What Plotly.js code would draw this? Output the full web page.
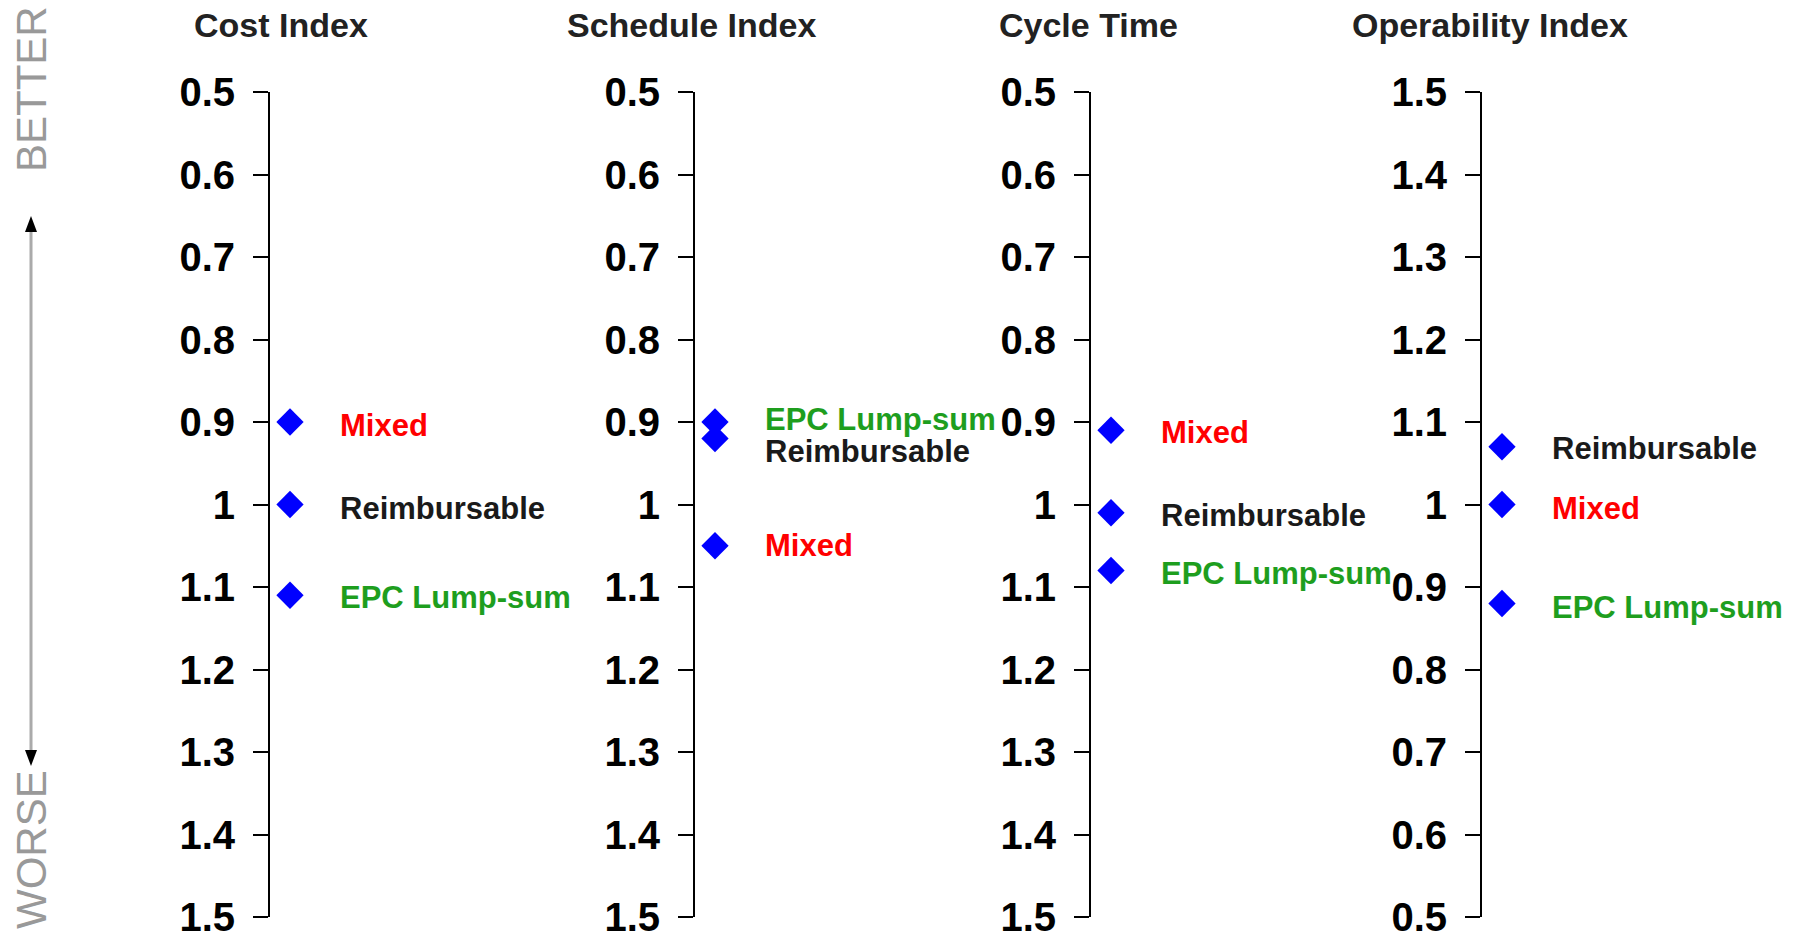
<!DOCTYPE html>
<html>
<head>
<meta charset="utf-8">
<script src="https://cdn.plot.ly/plotly-3.0.1.min.js"></script>
<style>html,body{margin:0;padding:0;background:#fff;}#chart{width:1801px;height:938px;}</style>
</head>
<body>
<div id="chart"></div>
<script>
// ---- data ----
const categories = ['EPC Lump-sum', 'Reimbursable', 'Mixed'];
const metricTitles = ['Cost Index', 'Schedule Index', 'Cycle Time', 'Operability Index'];
const costIndex = [1.11, 1.00, 0.90];
const scheduleIndex = [0.90, 0.92, 1.05];
const cycleTime = [1.08, 1.01, 0.91];
const operabilityIndex = [0.88, 1.07, 1.00];
const tickValues = [0.5, 0.6, 0.7, 0.8, 0.9, 1.0, 1.1, 1.2, 1.3, 1.4, 1.5];
const tickLabels = ['0.5', '0.6', '0.7', '0.8', '0.9', '1', '1.1', '1.2', '1.3', '1.4', '1.5'];

// ---- styling / layout helpers ----
const W = 1801, H = 938;
const series = [costIndex, scheduleIndex, cycleTime, operabilityIndex];
const reversedAxis = [true, true, true, false];
const axisPx = [270, 695, 1091, 1482];
const titlePx = [281, 691, 1088, 1490];
const domainWidthPx = 250;
const pxPerUnit = 20;
const labelColors = ['#1e9e1e', '#1a1a1a', '#ff0000'];
const labelNudge = [[2, 4, 3], [-3, 13, 0], [3, 3, 2], [4, 2, 4]];
const FONT = '"Liberation Sans", Arial, sans-serif';
const yTopPx = 92, yBottomPx = 917;
const px = v => v / W;
const py = v => 1 - v / H;

const traces = [];
const layout = {
  width: W, height: H,
  margin: {l: 0, r: 0, t: 0, b: 0},
  paper_bgcolor: '#ffffff', plot_bgcolor: 'rgba(0,0,0,0)',
  showlegend: false,
  annotations: [], shapes: []
};

series.forEach((vals, i) => {
  const k = i === 0 ? '' : String(i + 1);
  traces.push({
    type: 'scatter', mode: 'markers',
    x: vals.map(() => 1), y: vals,
    xaxis: 'x' + k, yaxis: 'y' + k,
    marker: {symbol: 'diamond', size: 21, color: '#0000ff', line: {width: 0}},
    hoverinfo: 'skip', cliponaxis: false
  });
  const d0 = px(axisPx[i]);
  layout['xaxis' + k] = {
    domain: [d0, d0 + px(domainWidthPx)],
    range: [0, domainWidthPx / pxPerUnit],
    visible: false, fixedrange: true, anchor: 'y' + k
  };
  layout['yaxis' + k] = {
    domain: [py(yBottomPx), py(yTopPx)],
    range: reversedAxis[i] ? [1.5, 0.5] : [0.5, 1.5],
    anchor: 'x' + k,
    tickmode: 'array', tickvals: tickValues, ticktext: tickLabels,
    showline: true, linecolor: '#000', linewidth: 2,
    ticks: 'outside', ticklen: 15, tickwidth: 2, tickcolor: '#000',
    ticklabelstandoff: 10, ticklabeloverflow: 'allow',
    showgrid: false, zeroline: false, fixedrange: true,
    tickfont: {family: FONT, size: 40, color: '#000', weight: 'bold'}
  };
  // category labels
  vals.forEach((v, j) => {
    layout.annotations.push({
      x: 1, y: v, xref: 'x' + k, yref: 'y' + k,
      text: categories[j], showarrow: false,
      xanchor: 'left', yanchor: 'middle',
      xshift: 48, yshift: -labelNudge[i][j],
      font: {family: FONT, size: 31, color: labelColors[j], weight: 'bold'}
    });
  });
  // panel title
  layout.annotations.push({
    x: px(titlePx[i]), y: py(25), xref: 'paper', yref: 'paper',
    text: metricTitles[i], showarrow: false,
    xanchor: 'center', yanchor: 'middle',
    font: {family: FONT, size: 34, color: '#222', weight: 'bold'}
  });
});

// BETTER / WORSE side labels
layout.annotations.push({
  x: px(31), y: py(89), xref: 'paper', yref: 'paper', text: 'BETTER',
  showarrow: false, textangle: -90, xanchor: 'center', yanchor: 'middle',
  font: {family: FONT, size: 42, color: '#999'}
});
layout.annotations.push({
  x: px(31), y: py(850), xref: 'paper', yref: 'paper', text: 'WORSE',
  showarrow: false, textangle: -90, xanchor: 'center', yanchor: 'middle',
  font: {family: FONT, size: 42, color: '#999'}
});
// arrow
layout.shapes.push({
  type: 'line', xref: 'paper', yref: 'paper',
  x0: px(31), x1: px(31), y0: py(228), y1: py(754),
  line: {color: '#aaa', width: 3}
});
const tri = (tipY, baseY) => `M${px(31)},${py(tipY)} L${px(37)},${py(baseY)} L${px(25)},${py(baseY)} Z`;
layout.shapes.push({type: 'path', xref: 'paper', yref: 'paper', path: tri(216, 232), fillcolor: '#000', line: {width: 0}});
layout.shapes.push({type: 'path', xref: 'paper', yref: 'paper', path: tri(766, 750), fillcolor: '#000', line: {width: 0}});

Plotly.newPlot('chart', traces, layout, {displayModeBar: false, staticPlot: true});
</script>
</body>
</html>
